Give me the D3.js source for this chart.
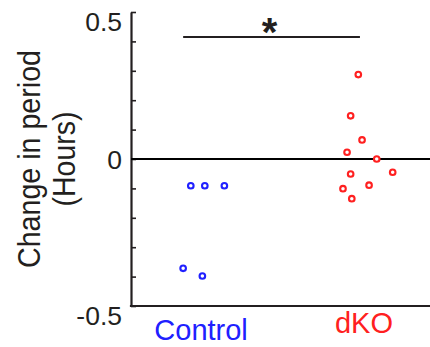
<!DOCTYPE html>
<html>
<head>
<meta charset="utf-8">
<script src="https://cdn.jsdelivr.net/npm/d3@7"></script>
<style>
  body { margin: 0; background: #fff; }
  text { font-family: "Liberation Sans", Arial, sans-serif; }
</style>
</head>
<body>
<div id="chart"></div>
<script>
// groups and their x positions (1 = Control, 2 = dKO)
const groups = ["Control", "dKO"];
const groupColors = ["#2020ff", "#ff2020"];

// points: jitter around the group position, value (hours)
const controlJitter = [-0.063, 0.023, 0.143, -0.110, 0.008];
const controlValues = [-0.091, -0.091, -0.091, -0.372, -0.398];
const dkoJitter = [-0.035, -0.082, -0.012, -0.104, 0.078, -0.082, 0.176, 0.031, -0.129, -0.075];
const dkoValues = [0.287, 0.147, 0.065, 0.023, 0.0, -0.051, -0.045, -0.089, -0.101, -0.135];

const yTicks = [-0.5, -0.4, -0.3, -0.2, -0.1, 0, 0.1, 0.2, 0.3, 0.4, 0.5];
const yTickLabels = { "-0.5": "-0.5", "0": "0", "0.5": "0.5" };

const width = 430, height = 347;
const ink = "#231f20";

const svg = d3.select("#chart").append("svg")
  .attr("width", width)
  .attr("height", height);

const x = d3.scaleLinear().domain([0.57, 2.405]).range([131, 430]);
const y = d3.scaleLinear().domain([-0.5, 0.5]).range([306, 12]);

// y axis with inward ticks
const yAxis = d3.axisLeft(y)
  .tickValues(yTicks)
  .tickSize(-5)
  .tickSizeOuter(0)
  .tickFormat(d => yTickLabels[String(d)] || "");

const gy = svg.append("g")
  .attr("transform", `translate(${x.range()[0]},0)`)
  .call(yAxis);
gy.select(".domain").attr("stroke", ink).attr("stroke-width", 2.2);
gy.selectAll(".tick line").attr("stroke", ink).attr("stroke-width", 1.6);
gy.selectAll(".tick text")
  .attr("fill", ink)
  .attr("x", -9)
  .style("font-size", "26.5px")
  .attr("dy", d => (d === 0 ? "0.36em" : "0.7em"));

// bottom axis line
svg.append("line")
  .attr("x1", x.range()[0] - 1.1).attr("x2", width)
  .attr("y1", y(-0.5)).attr("y2", y(-0.5))
  .attr("stroke", ink).attr("stroke-width", 2.2);

// zero line
svg.append("line")
  .attr("x1", x.range()[0]).attr("x2", width)
  .attr("y1", y(0)).attr("y2", y(0))
  .attr("stroke", "#000").attr("stroke-width", 2);

// group labels
svg.selectAll(".group-label")
  .data(groups)
  .enter()
  .append("text")
  .attr("class", "group-label")
  .attr("x", (d, i) => x(i + 1))
  .attr("y", (d, i) => (i === 0 ? 340 : 333))
  .attr("text-anchor", "middle")
  .attr("fill", (d, i) => groupColors[i])
  .style("font-size", "29px")
  .text(d => d);

// y label, two lines
const yLabel = svg.append("text")
  .attr("transform", `translate(40,${y(0)}) rotate(-90)`)
  .attr("text-anchor", "middle")
  .attr("fill", ink)
  .style("font-size", "31px");
yLabel.append("tspan").attr("x", 0).attr("dy", 0)
  .attr("textLength", 218).attr("lengthAdjust", "spacingAndGlyphs")
  .text("Change in period");
yLabel.append("tspan").attr("x", 0).attr("dy", 34.5)
  .attr("textLength", 95).attr("lengthAdjust", "spacingAndGlyphs")
  .text("(Hours)");

// significance bar
svg.append("line")
  .attr("x1", x(1 - 0.11)).attr("x2", x(2 - 0.025))
  .attr("y1", 37).attr("y2", 37)
  .attr("stroke", ink).attr("stroke-width", 1.8);
svg.append("text")
  .attr("x", x(1.42))
  .attr("y", 46)
  .attr("text-anchor", "middle")
  .attr("fill", ink)
  .style("font-size", "40px")
  .style("font-weight", "bold")
  .text("*");

// points
const points = [];
controlValues.forEach((v, i) => points.push({ g: 0, j: controlJitter[i], v }));
dkoValues.forEach((v, i) => points.push({ g: 1, j: dkoJitter[i], v }));

svg.selectAll(".pt")
  .data(points)
  .enter()
  .append("circle")
  .attr("class", "pt")
  .attr("cx", d => x(d.g + 1 + d.j))
  .attr("cy", d => y(d.v))
  .attr("r", 2.8)
  .attr("fill", "#fff")
  .attr("stroke", d => groupColors[d.g])
  .attr("stroke-width", 2.1);
</script>
</body>
</html>
